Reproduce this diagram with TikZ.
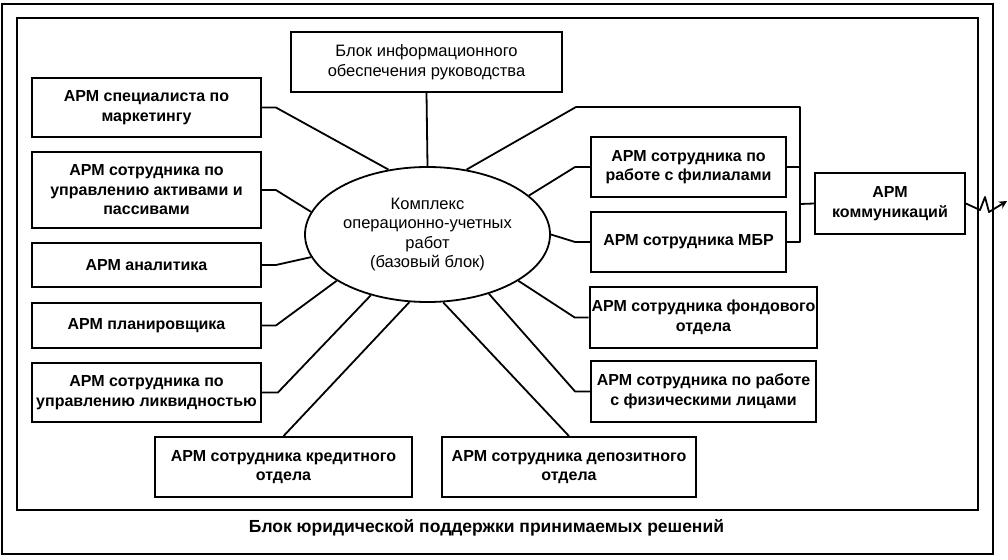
\documentclass[tikz,border=0pt]{standalone}
\usepackage{fontspec}
\setmainfont{Liberation Sans}
\usetikzlibrary{shapes.geometric,arrows.meta}
\tikzset{
  frame/.style={line width=1.8pt},
  box/.style={draw, line width=1.8pt, rectangle, align=center, inner sep=2pt,
    font=\fontsize{16}{19.5}\selectfont\bfseries},
  plainbox/.style={box, font=\fontsize{16.5}{19.5}\selectfont},
  conn/.style={line width=1.8pt, line join=round},
  core/.style={draw, line width=1.8pt, ellipse, align=center, inner sep=0pt,
    font=\fontsize{16.5}{19.5}\selectfont},
}
\begin{document}
\begin{tikzpicture}[x=1pt,y=-1pt]
\useasboundingbox (0,0) rectangle (1008,559);
% frames
\draw[frame] (2,4) rectangle (993,554);
\draw[frame] (17,18) rectangle (978,510);
\node[font=\fontsize{17.5}{20}\selectfont\bfseries] (legal) at (486.5,528) {Блок юридической поддержки принимаемых решений};

% central ellipse
\node[core, minimum width=245pt, minimum height=135pt] (ell) at (427.5,234.5)
  {Комплекс\\операционно-учетных\\работ\\(базовый блок)};

% boxes
\node[plainbox, minimum width=271pt, minimum height=60pt] (info) at (426.5,62)
  {Блок информационного\\обеспечения руководства};
\node[box, minimum width=229pt, minimum height=59pt] (mkt) at (146.5,107.5)
  {АРМ специалиста по\\маркетингу};
\node[box, minimum width=229pt, minimum height=76pt] (act) at (146.5,190)
  {АРМ сотрудника по\\управлению активами и\\пассивами};
\node[box, minimum width=229pt, minimum height=44pt] (anl) at (146.5,265)
  {АРМ аналитика};
\node[box, minimum width=229pt, minimum height=45pt] (pln) at (146.5,325.5)
  {АРМ планировщика};
\node[box, minimum width=229pt, minimum height=59pt] (liq) at (146.5,392.5)
  {АРМ сотрудника по\\управлению ликвидностью};
\node[box, minimum width=257pt, minimum height=60pt] (cred) at (283.5,467)
  {АРМ сотрудника кредитного\\отдела};
\node[box, minimum width=254pt, minimum height=60pt] (dep) at (569,467)
  {АРМ сотрудника депозитного\\отдела};
\node[box, minimum width=225pt, minimum height=61pt] (fond) at (703.5,317.5)
  {АРМ сотрудника фондового\\отдела};
\node[box, minimum width=225pt, minimum height=61pt] (phys) at (703.5,391.5)
  {АРМ сотрудника по работе\\с физическими лицами};
\node[box, minimum width=195pt, minimum height=60pt] (fil) at (688.5,167)
  {АРМ сотрудника по\\работе с филиалами};
\node[box, minimum width=195pt, minimum height=60pt] (mbr) at (688.5,242)
  {АРМ сотрудника МБР};
\node[box, minimum width=150pt, minimum height=61pt] (comm) at (890,203.5)
  {АРМ\\коммуникаций};

% junction coordinates
\coordinate (bend) at (576,107);
\coordinate (tr) at (800,107);
\coordinate (jn) at (800,204);
\coordinate (ext) at (1007,201);

% connectors
\draw[conn] (info.south) -- (ell.north);
\draw[conn] (mkt.east) -- ++(14,0) -- (ell.121.5);
\draw[conn] (act.east) -- ++(14,0) -- (ell.169);
\draw[conn] (anl.east) -- ++(14,0) -- (ell.191);
\draw[conn] (pln.east) -- ++(14,0) -- (ell.207);
\draw[conn] (liq.east) -- ++(16,0) -- (ell.227);
\draw[conn] (cred.north) -- (ell.255);
\draw[conn] (dep.north) -- (ell.283);
\draw[conn] (phys.west) -- ++(-15,0) -- (ell.316);
\draw[conn] (fond.west) -- ++(-14,0) -- (ell.333);
\draw[conn] (fil.west) -- ++(-15,0) -- (ell.21.5);
\draw[conn] (mbr.west) -- ++(-15,0) -- (ell.0);
\draw[conn] (ell.59) -- (bend) -- (tr) -- (tr |- mbr.east) -- (mbr.east);
\draw[conn] (fil.east) -- (fil.east -| tr);
\draw[conn] (jn) -- (comm.west);
\draw[conn, -{Stealth[length=8pt,width=8pt]}] (comm.east) -- (980,210) -- (985,197) -- (989,212) -- (ext);
\end{tikzpicture}
\end{document}
